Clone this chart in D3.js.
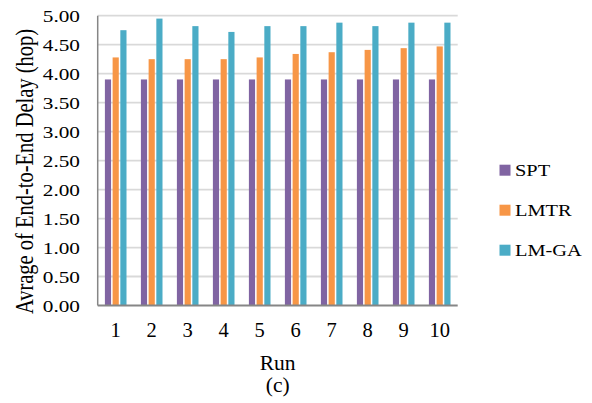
<!DOCTYPE html>
<html><head><meta charset="utf-8">
<script src="https://cdn.jsdelivr.net/npm/d3@7"></script>
<style>body{margin:0;background:#fff}svg{display:block}text{font-family:"Liberation Serif","Times New Roman",serif;fill:#000}</style>
</head><body><svg id="c" width="592" height="403"></svg>
<script>
const runs = ["1","2","3","4","5","6","7","8","9","10"];
const seriesNames = ["SPT","LMTR","LM-GA"];
const spt  = [3.90,3.90,3.90,3.90,3.90,3.90,3.90,3.90,3.90,3.90];
const lmtr = [4.28,4.25,4.25,4.25,4.28,4.34,4.37,4.41,4.44,4.47];
const lmga = [4.75,4.95,4.82,4.72,4.82,4.82,4.88,4.82,4.88,4.88];
const yTicks = [0,0.5,1,1.5,2,2.5,3,3.5,4,4.5,5];
const colors = ["#8064A2","#F79646","#4BACC6"];
const seriesVals = [spt,lmtr,lmga];

const svg = d3.select("#c");
const L = 97.7, R = 457.7, T = 15.7, B = 305.5;
const x = d3.scaleBand().domain(runs).range([L,R]).paddingInner(0.4).paddingOuter(0.2);
const xs = d3.scaleBand().domain(seriesNames).range([0,x.bandwidth()]).paddingInner(0.2);
const y = d3.scaleLinear().domain([0,5]).range([B,T]);
const fmt = d3.format(".2f");

// gridlines
svg.append("g").selectAll("line").data(yTicks.filter(d=>d>0)).join("line")
  .attr("x1",L).attr("x2",R).attr("y1",d=>y(d)).attr("y2",d=>y(d))
  .attr("stroke","#D9D9D9").attr("stroke-width",1.8);

// bars
seriesVals.forEach((vals,si)=>{
  svg.append("g").selectAll("rect").data(vals).join("rect")
    .attr("x",(d,i)=>x(runs[i])+xs(seriesNames[si]))
    .attr("width",xs.bandwidth())
    .attr("y",d=>y(d)).attr("height",d=>y(0)-y(d))
    .attr("fill",colors[si]);
});

// y axis line
svg.append("line").attr("x1",L).attr("x2",L).attr("y1",T).attr("y2",B)
  .attr("stroke","#868686").attr("stroke-width",1.5);
// y tick labels (horizontally stretched as in reference)
svg.append("g").selectAll("text").data(yTicks).join("text")
  .attr("transform",d=>`translate(80,${y(d)+6}) scale(1.25,1)`)
  .attr("text-anchor","end").style("font-size","17px").text(d=>fmt(d));

// x axis
svg.append("line").attr("x1",L).attr("x2",R).attr("y1",B).attr("y2",B)
  .attr("stroke","#868686").attr("stroke-width",1.8);
svg.append("g").selectAll("text").data(runs).join("text")
  .attr("x",d=>x(d)+x.bandwidth()/2).attr("y",337)
  .attr("text-anchor","middle").style("font-size","20.5px").text(d=>d);

// axis titles
svg.append("text").attr("x",(L+R)/2).attr("y",370).attr("text-anchor","middle")
  .style("font-size","21.5px").text("Run");
svg.append("text").attr("x",(L+R)/2).attr("y",392).attr("text-anchor","middle")
  .style("font-size","21.5px").text("(c)");
svg.append("text").attr("transform","translate(33,171.5) scale(1.25,1) rotate(-90)").attr("text-anchor","middle")
  .style("font-size","20.5px").text("Avrage of End-to-End Delay (hop)");

// legend
const legY = [175.7,215.7,255.7];
const lg = svg.append("g").selectAll("g").data(seriesNames).join("g")
  .attr("transform",(d,i)=>`translate(499.5,${legY[i]})`);
lg.append("rect").attr("x",0).attr("y",-11).attr("width",11).attr("height",11).attr("fill",(d,i)=>colors[i]);
lg.append("text").attr("transform","translate(15.5,0) scale(1.2,1)").style("font-size","17px").text(d=>d);
</script></body></html>
